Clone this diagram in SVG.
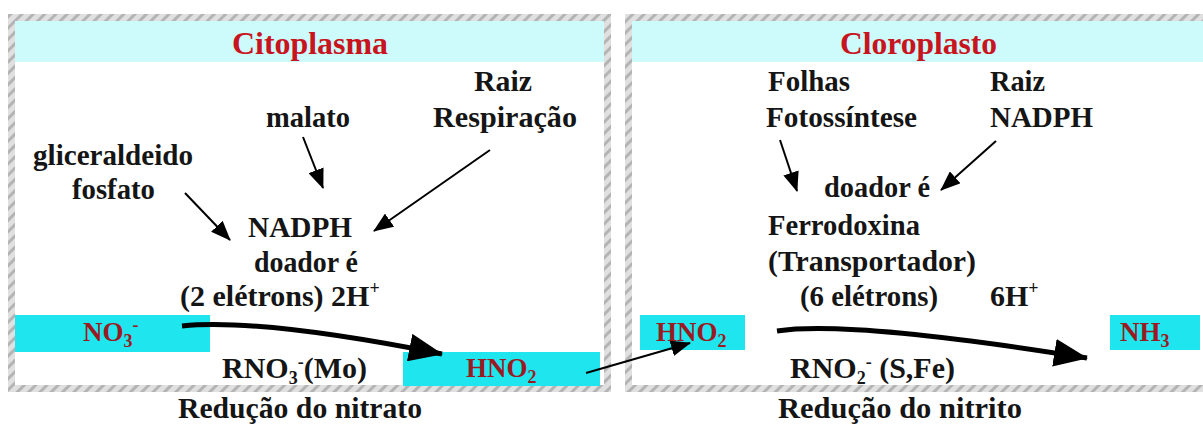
<svg xmlns="http://www.w3.org/2000/svg" width="1203" height="427" viewBox="0 0 1203 427">
<defs>
<pattern id="hatch" width="8" height="8" patternUnits="userSpaceOnUse" patternTransform="rotate(45)">
<rect width="8" height="8" fill="#e0e0e0"/>
<rect width="3" height="8" fill="#b4b4b4"/>
</pattern>
<marker id="ah" viewBox="0 0 20 16" refX="19" refY="8" markerWidth="20" markerHeight="16" markerUnits="userSpaceOnUse" orient="auto">
<path d="M0,0 L20,8 L0,16 Z" fill="#000"/>
</marker>
<marker id="big" viewBox="0 0 34 28" refX="33" refY="14" markerWidth="34" markerHeight="28" markerUnits="userSpaceOnUse" orient="auto">
<path d="M0,0 L34,14 L0,28 Z" fill="#000"/>
</marker>
</defs>
<style>
text{font-family:"Liberation Serif","Times New Roman",serif;font-weight:bold;fill:#151515;font-size:30px}
.title{fill:#c8141e;font-size:32px}
.chem{fill:#9b1a22;font-size:27px}
.sub{font-size:18px}
.frame{fill:none;stroke:url(#hatch);stroke-width:7}
.head{fill:#cdfafa}
.box{fill:#1fe6ee}
.thin{fill:none;stroke:#000;stroke-width:2;marker-end:url(#ah)}
.thick{fill:none;stroke:#000;stroke-width:5;marker-end:url(#big)}
</style>
<rect width="1203" height="427" fill="#fff"/>

<g id="panel-citoplasma">
<rect class="head" x="15" y="21" width="589" height="41"/>
<rect class="frame" x="11.5" y="17.5" width="596" height="371"/>
<text class="title" x="232" y="54" textLength="156" lengthAdjust="spacingAndGlyphs">Citoplasma</text>
</g>

<g id="panel-cloroplasto">
<rect class="head" x="632" y="21" width="571" height="41"/>
<rect class="frame" x="628.5" y="17.5" width="580" height="371"/>
<text class="title" x="840" y="54" textLength="157" lengthAdjust="spacingAndGlyphs">Cloroplasto</text>
</g>

<g id="malato"><text x="266" y="127" textLength="84" lengthAdjust="spacingAndGlyphs">malato</text></g>
<g id="raiz-respiracao">
<text x="474" y="91" textLength="58" lengthAdjust="spacingAndGlyphs">Raiz</text>
<text x="433" y="127" textLength="144" lengthAdjust="spacingAndGlyphs">Respiração</text>
</g>
<g id="gliceraldeido">
<text x="33" y="165" textLength="160" lengthAdjust="spacingAndGlyphs">gliceraldeido</text>
<text x="72" y="199" textLength="83" lengthAdjust="spacingAndGlyphs">fosfato</text>
</g>
<g id="nadph">
<text x="248" y="237" textLength="104" lengthAdjust="spacingAndGlyphs">NADPH</text>
<text x="254" y="272" textLength="104" lengthAdjust="spacingAndGlyphs">doador é</text>
<text x="180" y="306">(2 elétrons)  2H<tspan class="sub" dy="-12">+</tspan></text>
</g>
<g id="no3">
<rect class="box" x="15" y="315" width="195" height="37"/>
<text class="chem" x="83" y="341">NO<tspan class="sub" dy="6">3</tspan><tspan class="sub" dy="-16">-</tspan></text>
</g>
<g id="rno3"><text x="222" y="378">RNO<tspan class="sub" dy="6">3</tspan><tspan class="sub" dy="-16">-</tspan><tspan dy="10">(Mo)</tspan></text></g>
<g id="hno2-left">
<rect class="box" x="403" y="352" width="197" height="34"/>
<text class="chem" x="466" y="377">HNO<tspan class="sub" dy="6">2</tspan></text>
</g>
<g id="label-nitrato"><text x="178" y="418" textLength="244" lengthAdjust="spacingAndGlyphs">Redução do nitrato</text></g>

<g id="folhas">
<text x="768" y="91" textLength="82" lengthAdjust="spacingAndGlyphs">Folhas</text>
<text x="766" y="127" textLength="151" lengthAdjust="spacingAndGlyphs">Fotossíntese</text>
</g>
<g id="raiz-nadph">
<text x="990" y="91" textLength="55" lengthAdjust="spacingAndGlyphs">Raiz</text>
<text x="990" y="127" textLength="103" lengthAdjust="spacingAndGlyphs">NADPH</text>
</g>
<g id="ferrodoxina">
<text x="824" y="197" textLength="106" lengthAdjust="spacingAndGlyphs">doador é</text>
<text x="768" y="235" textLength="152" lengthAdjust="spacingAndGlyphs">Ferrodoxina</text>
<text x="768" y="271" textLength="208" lengthAdjust="spacingAndGlyphs">(Transportador)</text>
<text x="800" y="306" textLength="138" lengthAdjust="spacingAndGlyphs">(6 elétrons)</text>
<text x="990" y="306">6H<tspan class="sub" dy="-12">+</tspan></text>
</g>
<g id="hno2-right">
<rect class="box" x="640" y="315" width="105" height="35"/>
<text class="chem" x="656" y="341">HNO<tspan class="sub" dy="6">2</tspan></text>
</g>
<g id="rno2"><text x="790" y="378">RNO<tspan class="sub" dy="6">2</tspan><tspan class="sub" dy="-16">-</tspan><tspan dy="10"> (S,Fe)</tspan></text></g>
<g id="nh3">
<rect class="box" x="1110" y="315" width="90" height="35"/>
<text class="chem" x="1120" y="341">NH<tspan class="sub" dy="6">3</tspan></text>
</g>
<g id="label-nitrito"><text x="778" y="418" textLength="244" lengthAdjust="spacingAndGlyphs">Redução do nitrito</text></g>

<g id="connectors">
<line class="thin" x1="303" y1="137" x2="323" y2="188"/>
<line class="thin" x1="490" y1="150" x2="374" y2="231"/>
<line class="thin" x1="185" y1="193" x2="230" y2="240"/>
<line class="thin" x1="586" y1="373" x2="690" y2="343"/>
<line class="thin" x1="780" y1="140" x2="797" y2="191"/>
<line class="thin" x1="996" y1="141" x2="941" y2="190"/>
<path class="thick" d="M182,326 Q260,318 442,354"/>
<path class="thick" d="M777,331 Q850,320 1087,358"/>
</g>
</svg>
